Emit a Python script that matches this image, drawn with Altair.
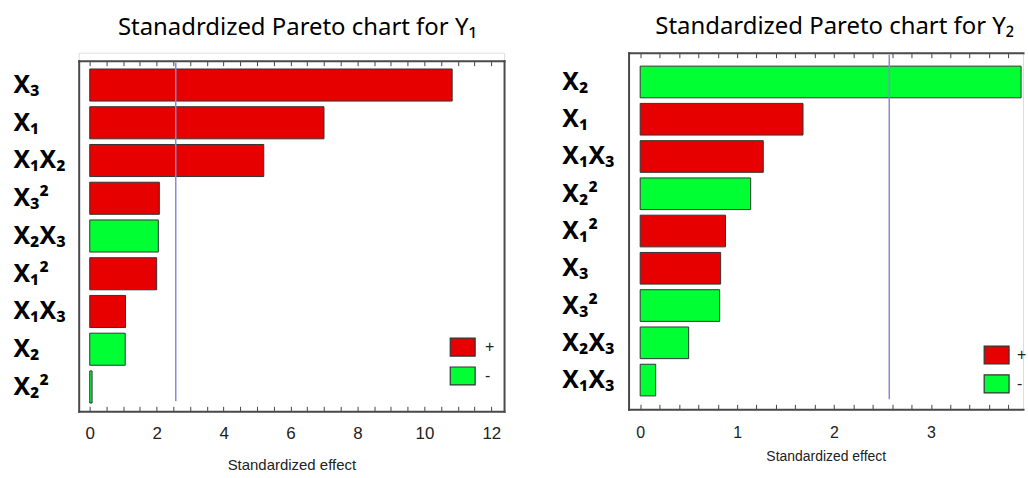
import altair as alt
import pandas as pd

# ---- data ----
left_terms = ["X₃", "X₁", "X₁X₂", "X₃²", "X₂X₃", "X₁²", "X₁X₃", "X₂", "X₂²"]
left_effects = [10.83, 7.0, 5.2, 2.08, 2.05, 2.0, 1.07, 1.06, 0.07]
left_signs = ["+", "+", "+", "+", "-", "+", "+", "-", "-"]
left_critical = 2.57
left_ticks = [i * 0.5 for i in range(0, 25)]

right_terms = ["X₂", "X₁", "X₁X₃", "X₂²", "X₁²", "X₃", "X₃²", "X₂X₃", "X₁X₃"]
right_effects = [3.93, 1.68, 1.27, 1.14, 0.88, 0.83, 0.82, 0.50, 0.16]
right_signs = ["-", "+", "+", "-", "+", "+", "-", "-", "-"]
right_critical = 2.57
right_ticks = [round(i * 0.2, 1) for i in range(0, 20)]

sign_domain = ["+", "-"]
sign_colors = ["#e60000", "#00ff33"]

LABEL_FONT = "Noto Sans"
AXIS_FONT = "Liberation Sans"
FRAME = "#4a4a4a"


def frame_axis(orient, offset=0, show=True):
    return alt.Axis(orient=orient, offset=offset, domain=show, domainColor=FRAME,
                    domainWidth=2, domainCap="square", ticks=False, labels=False,
                    title=None, grid=False)


def pareto(terms, effects, signs, critical, ticks, domain, title, width, height,
           frame_top, right_edge, label_pad, legend_x, legend_y, tick_font,
           tick_pad, axis_title_font, axis_title_pad, title_offset, title_dx,
           label_every, pad_outer, legend_label_offset):
    df = pd.DataFrame({"idx": list(range(len(terms))), "effect": effects, "sign": signs})
    arr = "[" + ",".join("'" + t + "'" for t in terms) + "]"
    if label_every == 2:
        lbl = "datum.value % 2 === 0 ? format(datum.value, 'd') : ''"
    else:
        lbl = "abs(datum.value - round(datum.value)) < 1e-6 ? format(datum.value, 'd') : ''"

    xscale = alt.Scale(domain=domain, nice=False, zero=False)
    yscale = alt.Scale(paddingInner=0.15, paddingOuter=pad_outer,
                       range=[frame_top, height])

    bars = alt.Chart(df).mark_bar(stroke="#333333", strokeWidth=1).encode(
        x=alt.X("effect:Q", scale=xscale,
                axis=alt.Axis(orient="bottom", values=ticks, labelExpr=lbl,
                              title="Standardized effect", domain=False,
                              offset=-5, tickSize=5, tickColor="#444",
                              labelFont=AXIS_FONT, labelFontSize=tick_font,
                              labelColor="#222", labelPadding=tick_pad,
                              titleFont=AXIS_FONT, titleFontSize=axis_title_font,
                              titleFontWeight="normal", titleColor="#222",
                              titlePadding=axis_title_pad, grid=False)),
        x2=alt.datum(0),
        y=alt.Y("idx:O", scale=yscale,
                axis=alt.Axis(title=None, labelExpr=arr + "[datum.value]",
                              ticks=False, domain=True, domainColor=FRAME,
                              domainWidth=2, domainCap="square",
                              labelAlign="left",
                              labelPadding=label_pad, labelFont=LABEL_FONT,
                              labelFontSize=25, labelFontWeight="bold",
                              labelColor="black")),
        fill=alt.Fill("sign:N",
                      scale=alt.Scale(domain=sign_domain, range=sign_colors),
                      legend=alt.Legend(title=None, orient="none",
                                        legendX=legend_x, legendY=legend_y,
                                        symbolType="M-1,-0.72L1,-0.72L1,0.72L-1,0.72Z",
                                        symbolSize=625, symbolStrokeColor="#333",
                                        symbolStrokeWidth=1.2, symbolOpacity=1,
                                        labelFont=AXIS_FONT, labelFontSize=16,
                                        labelColor="#222",
                                        labelOffset=legend_label_offset,
                                        rowPadding=4, padding=0)),
    )
    rule = alt.Chart(pd.DataFrame({"t": [critical]})).mark_rule(
        color="#8a8ad2", strokeWidth=1.5).encode(
        x=alt.X("t:Q",
                axis=alt.Axis(orient="top", values=ticks, labels=False, title=None,
                              domain=False, offset=-(frame_top + 5), tickSize=5,
                              tickColor="#444", grid=False)),
        y=alt.value(frame_top + 2),
        y2=alt.value(height - 10),
    )
    frame_a = alt.Chart(df).mark_point(opacity=0).encode(
        x=alt.X("effect:Q", axis=frame_axis("top", -frame_top)),
        y=alt.Y("idx:O", axis=frame_axis("right", 0, right_edge)),
    )
    frame_b = alt.Chart(df).mark_point(opacity=0).encode(
        x=alt.X("effect:Q", axis=frame_axis("bottom", 0)),
        y=alt.Y("idx:O", axis=None),
    )
    return alt.layer(bars, rule, frame_a, frame_b).resolve_axis(
        x="independent", y="independent"
    ).properties(
        width=width, height=height,
        title=alt.Title(title, font=LABEL_FONT, fontSize=24, fontWeight="normal",
                        color="black", anchor="middle", offset=title_offset,
                        dx=title_dx),
    )


left = pareto(left_terms, left_effects, left_signs, left_critical, left_ticks,
              [-0.33, 12.38], "Stanadrdized Pareto chart for Y₁", 427, 360,
              8, True, 66, 372, 282, 17, 14, 15, 16, 13, 6, 2, 0.22, 9)
right = pareto(right_terms, right_effects, right_signs, right_critical, right_ticks,
               [-0.12, 3.95], "Standardized Pareto chart for Y₂", 396, 358,
               0, False, 67, 356, 290, 16, 15, 14, 9, 13, 9, 1, 0.36, 7)

chart = alt.hconcat(left, right, spacing=56).resolve_scale(
    fill="independent"
).properties(
    padding={"left": 12, "top": 14, "right": 0, "bottom": 0}
).configure_view(strokeOpacity=0, strokeWidth=0).configure(background="white")

chart.save("out.html", embed_options={"renderer": "svg", "actions": False})
